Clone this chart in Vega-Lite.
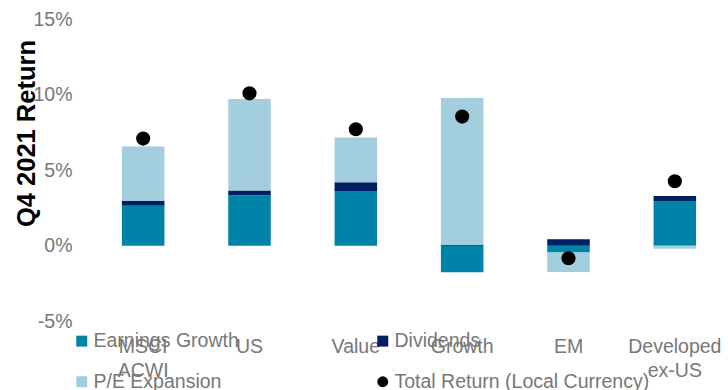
{
  "$schema": "https://vega.github.io/schema/vega-lite/v6.json",
  "width": 638,
  "height": 301.5,
  "autosize": {"type": "none"},
  "padding": {"left": 90, "top": 19.5, "right": 0, "bottom": 69},
  "background": "white",
  "config": {
    "view": {"stroke": null},
    "font": "Liberation Sans"
  },
  "data": {
    "values": [
      {"category": "MSCI ACWI", "series": "Earnings Growth", "value": 2.65},
      {"category": "MSCI ACWI", "series": "Dividends", "value": 0.33},
      {"category": "MSCI ACWI", "series": "P/E Expansion", "value": 3.6},
      {"category": "MSCI ACWI", "series": "Total Return (Local Currency)", "value": 7.1},
      {"category": "US", "series": "Earnings Growth", "value": 3.34},
      {"category": "US", "series": "Dividends", "value": 0.31},
      {"category": "US", "series": "P/E Expansion", "value": 6.08},
      {"category": "US", "series": "Total Return (Local Currency)", "value": 10.1},
      {"category": "Value", "series": "Earnings Growth", "value": 3.63},
      {"category": "Value", "series": "Dividends", "value": 0.57},
      {"category": "Value", "series": "P/E Expansion", "value": 2.97},
      {"category": "Value", "series": "Total Return (Local Currency)", "value": 7.72},
      {"category": "Growth", "series": "Earnings Growth", "value": -1.77},
      {"category": "Growth", "series": "Dividends", "value": 0.05},
      {"category": "Growth", "series": "P/E Expansion", "value": 9.75},
      {"category": "Growth", "series": "Total Return (Local Currency)", "value": 8.56},
      {"category": "EM", "series": "Earnings Growth", "value": -0.45},
      {"category": "EM", "series": "Dividends", "value": 0.42},
      {"category": "EM", "series": "P/E Expansion", "value": -1.3},
      {"category": "EM", "series": "Total Return (Local Currency)", "value": -0.84},
      {"category": "Developed ex-US", "series": "Earnings Growth", "value": 2.92},
      {"category": "Developed ex-US", "series": "Dividends", "value": 0.38},
      {"category": "Developed ex-US", "series": "P/E Expansion", "value": -0.2},
      {"category": "Developed ex-US", "series": "Total Return (Local Currency)", "value": 4.27}
    ]
  },
  "layer": [
    {
      "transform": [
        {"filter": "datum.series != 'Total Return (Local Currency)'"},
        {"calculate": "indexof(['Earnings Growth','Dividends','P/E Expansion'], datum.series)", "as": "stackOrder"}
      ],
      "mark": {"type": "bar"},
      "encoding": {
        "x": {
          "field": "category",
          "type": "nominal",
          "sort": ["MSCI ACWI", "US", "Value", "Growth", "EM", "Developed ex-US"],
          "scale": {"paddingInner": 0.6, "paddingOuter": 0.3},
          "axis": {
            "title": null,
            "labelAngle": 0,
            "domain": false,
            "ticks": false,
            "labelPadding": 16,
            "labelFontSize": 19.5,
            "labelColor": "#777777",
            "labelLineHeight": 24,
            "labelBaseline": "top",
            "labelExpr": "datum.value == 'MSCI ACWI' ? ['MSCI','ACWI'] : datum.value == 'Developed ex-US' ? ['Developed','ex-US'] : datum.value"
          }
        },
        "y": {
          "field": "value",
          "type": "quantitative",
          "stack": "zero",
          "scale": {"domain": [-5, 15], "nice": false},
          "axis": {
            "values": [-5, 0, 5, 10, 15],
            "labelExpr": "datum.value + '%'",
            "domain": false,
            "ticks": false,
            "grid": false,
            "labelPadding": 18,
            "labelFontSize": 19.5,
            "labelColor": "#777777",
            "title": "Q4 2021 Return",
            "titleFontSize": 25.5,
            "titleFontWeight": "bold",
            "titleColor": "#000000",
            "titleAngle": -90,
            "titleX": -64,
            "titleY": 113.5,
            "titleAlign": "center",
            "titleBaseline": "middle"
          }
        },
        "color": {
          "field": "series",
          "type": "nominal",
          "scale": {
            "domain": ["Earnings Growth", "Dividends", "P/E Expansion", "Total Return (Local Currency)"],
            "range": ["#0083A9", "#001E62", "#A2CEDE", "#000000"]
          },
          "legend": {
            "title": null,
            "orient": "none",
            "direction": "horizontal",
            "legendX": -18,
            "legendY": 311.5,
            "columns": 2,
            "columnPadding": 134,
            "rowPadding": 20,
            "padding": 0,
            "labelFontSize": 19.5,
            "labelColor": "#777777",
            "labelOffset": 2,
            "labelLimit": 400,
            "symbolSize": 120,
            "symbolType": "square",
            "encode": {
              "symbols": {
                "update": {
                  "shape": {"signal": "datum.value == 'Total Return (Local Currency)' ? 'circle' : 'square'"},
                  "strokeWidth": {"value": 0}
                }
              }
            }
          }
        },
        "order": {"field": "stackOrder", "type": "quantitative"}
      }
    },
    {
      "transform": [
        {"filter": "datum.series == 'Total Return (Local Currency)'"}
      ],
      "mark": {"type": "point", "filled": true, "size": 200, "opacity": 1},
      "encoding": {
        "x": {"field": "category", "type": "nominal", "sort": ["MSCI ACWI", "US", "Value", "Growth", "EM", "Developed ex-US"]},
        "y": {"field": "value", "type": "quantitative"},
        "color": {"field": "series", "type": "nominal"}
      }
    }
  ]
}
